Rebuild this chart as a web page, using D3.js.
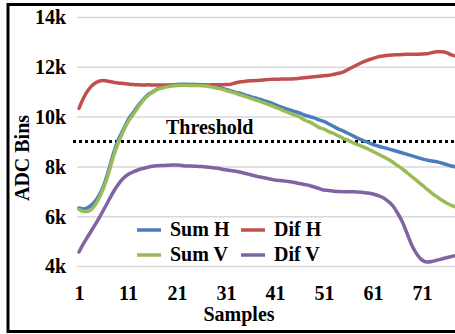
<!DOCTYPE html>
<html>
<head>
<meta charset="utf-8">
<script src="https://cdn.jsdelivr.net/npm/d3@7"></script>
<style>
  body { margin: 0; background: #fff; }
  svg { display: block; }
  text { font-family: "Liberation Serif", "Times New Roman", serif; font-weight: bold; fill: #000; }
</style>
</head>
<body>
<div id="chart"></div>
<script>
// sample numbers (categories)
const samples = d3.range(1, 79);

const sumH = [6330, 6290, 6370, 6530, 6810, 7210, 7810, 8500, 9060, 9460,
  9860, 10145, 10425, 10665, 10865, 10990, 11110, 11170, 11230, 11270,
  11290, 11295, 11295, 11290, 11290, 11280, 11270, 11230, 11190, 11150,
  11090, 11030, 10975, 10930, 10865, 10805, 10745, 10690, 10625, 10565,
  10485, 10405, 10325, 10265, 10205, 10145, 10065, 10005, 9945, 9865,
  9805, 9705, 9600, 9500, 9420, 9320, 9220, 9120, 9040, 8960,
  8880, 8820, 8765, 8715, 8660, 8600, 8540, 8480, 8420, 8360,
  8300, 8255, 8215, 8190, 8135, 8075, 8015, 7975];

const sumV = [6280, 6190, 6210, 6370, 6690, 7130, 7695, 8380, 8940, 9380,
  9785, 10065, 10365, 10625, 10825, 10970, 11090, 11150, 11195, 11230,
  11250, 11255, 11255, 11250, 11250, 11240, 11230, 11195, 11150, 11110,
  11050, 10990, 10930, 10865, 10805, 10735, 10675, 10605, 10535, 10465,
  10385, 10305, 10215, 10135, 10065, 9985, 9865, 9785, 9685, 9560,
  9500, 9400, 9320, 9220, 9120, 9040, 8940, 8860, 8780, 8700,
  8600, 8500, 8400, 8300, 8175, 8035, 7895, 7735, 7575, 7415,
  7255, 7090, 6930, 6785, 6650, 6530, 6430, 6370];

const difH = [10330, 10780, 11100, 11300, 11420, 11450, 11420, 11380, 11350, 11330,
  11310, 11290, 11275, 11270, 11275, 11270, 11265, 11270, 11270, 11265,
  11270, 11270, 11270, 11265, 11270, 11270, 11270, 11275, 11275, 11280,
  11285, 11300, 11360, 11400, 11420, 11440, 11445, 11460, 11480, 11495,
  11500, 11505, 11510, 11510, 11520, 11540, 11560, 11580, 11600, 11620,
  11640, 11660, 11700, 11740, 11800, 11900, 12000, 12100, 12200, 12270,
  12340, 12400, 12430, 12460, 12475, 12485, 12495, 12500, 12500, 12505,
  12510, 12520, 12570, 12600, 12600, 12570, 12480, 12420];

const difV = [4560, 4924, 5245, 5566, 5888, 6249, 6610, 6972, 7273, 7514,
  7675, 7775, 7855, 7916, 7964, 8004, 8024, 8036, 8048, 8056,
  8056, 8036, 8016, 8016, 8004, 7992, 7976, 7956, 7936, 7896,
  7863, 7835, 7803, 7763, 7715, 7663, 7614, 7574, 7534, 7494,
  7454, 7430, 7410, 7386, 7353, 7313, 7273, 7233, 7173, 7112,
  7052, 7032, 7004, 6988, 6984, 6984, 6984, 6972, 6952, 6932,
  6892, 6831, 6751, 6610, 6430, 6129, 5767, 5285, 4803, 4462,
  4241, 4161, 4181, 4229, 4281, 4333, 4382, 4422];

const yTicks = [4000, 6000, 8000, 10000, 12000, 14000];
const xTicks = [1, 11, 21, 31, 41, 51, 61, 71];
const threshold = 9000;

const seriesNames = ["Sum H", "Dif H", "Sum V", "Dif V"];
const seriesData = [sumH, difH, sumV, difV];
const seriesColors = ["#4a7ebb", "#c0504d", "#9bbb59", "#8064a2"];

var width = 455
var height = 334;

let svg = d3.select("#chart")
  .append("svg")
  .attr("width", width)
  .attr("height", height)

const x = d3.scaleLinear().domain([1, 71]).range([79, 422]);
const y = d3.scaleLinear().domain([4000, 14000]).range([266, 17]);

// y axis + gridlines
const yAxis = svg.append("g")
  .attr("transform", "translate(77,0)")
  .call(d3.axisLeft(y).tickValues(yTicks)
    .tickFormat(d => (d / 1000) + "k")
    .tickSize(-400).tickPadding(11))
yAxis.select(".domain").remove()
yAxis.selectAll("line").attr("stroke", "#d9d9d9").attr("stroke-width", 1.5)
yAxis.selectAll("text").attr("font-family", null).style("font-size", "20px").attr("dy", "0.34em")
yAxis.attr("font-family", null).attr("font-size", null)

// x axis labels
const xAxis = svg.append("g")
  .attr("transform", "translate(0,266)")
  .call(d3.axisBottom(x).tickValues(xTicks).tickSize(0).tickPadding(20))
xAxis.select(".domain").remove()
xAxis.attr("font-family", null).attr("font-size", null)
xAxis.selectAll("text").style("font-size", "20px")

// threshold
svg.append("line")
  .attr("x1", 73).attr("x2", 460)
  .attr("y1", y(threshold)).attr("y2", y(threshold))
  .attr("stroke", "#000")
  .attr("stroke-width", 3)
  .attr("stroke-dasharray", "3,3")

svg.append("text")
  .attr("x", 166).attr("y", 134)
  .style("font-size", "20px")
  .text("Threshold")

// series lines
const line = d3.line()
  .x((d, i) => x(samples[i]))
  .y(d => y(d))
  .curve(d3.curveMonotoneX)

svg.selectAll(".series")
  .data(seriesData)
  .join("path")
  .attr("class", "series")
  .attr("d", d => line(d))
  .attr("fill", "none")
  .attr("stroke", (d, i) => seriesColors[i])
  .attr("stroke-width", 3.5)
  .attr("stroke-linejoin", "round")
  .attr("stroke-linecap", "round")

// legend
const legend = svg.selectAll(".legend-item")
  .data(seriesNames)
  .join("g")
  .attr("class", "legend-item")
  .attr("transform", (d, i) => "translate(" + (137 + (i % 2) * 104) + "," + (230 + Math.floor(i / 2) * 25) + ")")

legend.append("line")
  .attr("x1", 0).attr("x2", 24)
  .attr("stroke", (d, i) => seriesColors[i])
  .attr("stroke-width", 3.5)

legend.append("text")
  .attr("x", 33).attr("y", 6)
  .style("font-size", "20px")
  .text(d => d)

// axis titles
svg.append("text")
  .attr("x", 239).attr("y", 321)
  .attr("text-anchor", "middle")
  .style("font-size", "20px")
  .text("Samples")

svg.append("text")
  .attr("transform", "translate(29,158) rotate(-90)")
  .attr("text-anchor", "middle")
  .style("font-size", "20px")
  .text("ADC Bins")

// outer border
svg.append("rect")
  .attr("x", 8).attr("y", 4.5)
  .attr("width", 470).attr("height", 327)
  .attr("fill", "none")
  .attr("stroke", "#000")
  .attr("stroke-width", 3)
</script>
</body>
</html>
